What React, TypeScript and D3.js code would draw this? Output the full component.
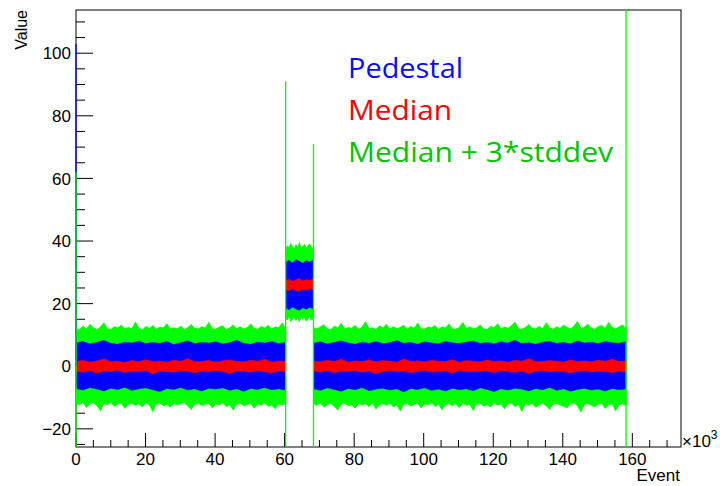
import React from "react";
import * as d3 from "d3";

// ---------------- data (units: Event ×10^3 / Value) ----------------
const xTickLabels = [0, 20, 40, 60, 80, 100, 120, 140, 160];
const yTickLabels = [-20, 0, 20, 40, 60, 80, 100];

// event ranges of the three data segments (before the step, the step, after the step)
const segmentBounds: [number, number][] = [
  [0, 60.3],
  [60.3, 68.2],
  [68.3, 158.2],
];

// Median ± 3*stddev (green) envelope
const greenUpA = [12.1, 11.6, 12.8, 11.9, 13.4, 12.2, 11.7, 12.5, 13.9, 12.0,
  11.8, 12.6, 12.3, 13.1, 11.9, 12.4, 12.0, 14.1, 12.2, 11.6,
  12.7, 12.1, 13.0, 11.8, 12.5, 12.2, 13.6, 11.9, 12.3, 12.0,
  12.8, 11.7, 12.4, 13.3, 12.1, 11.9, 12.6, 12.2, 14.0, 12.0,
  11.8, 12.5, 12.9, 11.7, 12.3, 13.2, 12.0, 12.6, 11.9, 12.4,
  13.5, 12.1, 11.8, 12.7, 12.2, 13.0, 11.9, 12.5, 12.3, 13.8, 12.1];
const greenLoA = [-11.8, -12.4, -11.5, -13.2, -12.0, -11.7, -12.6, -14.2, -11.9, -12.3,
  -11.6, -12.8, -12.1, -11.8, -13.5, -12.2, -11.9, -12.5, -12.0, -13.0,
  -11.7, -12.3, -14.5, -12.1, -11.8, -12.6, -12.2, -13.1, -11.9, -12.4,
  -12.0, -11.6, -12.7, -13.8, -12.1, -11.9, -12.5, -12.2, -11.8, -13.3,
  -12.0, -12.4, -11.7, -12.9, -12.3, -14.0, -12.1, -11.8, -12.6, -12.2,
  -11.9, -13.4, -12.0, -12.5, -11.7, -12.8, -12.3, -13.6, -12.0, -12.4, -11.9];
const greenUpB = [37.6, 38.4, 37.9, 39.2, 38.1, 37.5, 38.8, 38.0, 39.5, 37.8, 38.3, 38.9, 37.7, 38.5, 39.1, 38.0, 37.6];
const greenLoB = [15.4, 14.8, 15.9, 14.3, 15.1, 15.7, 14.6, 15.3, 14.2, 15.8, 15.0, 15.5, 14.4, 15.2, 15.9, 14.7, 15.3];
const greenUpC = [12.3, 11.9, 12.6, 13.2, 12.0, 11.7, 12.8, 12.2, 13.7, 11.9,
  12.4, 12.1, 13.0, 11.8, 12.5, 14.2, 12.0, 12.3, 11.7, 12.9,
  12.2, 13.4, 11.9, 12.6, 12.0, 12.4, 13.1, 11.8, 12.7, 12.1,
  13.8, 12.0, 11.9, 12.5, 12.3, 13.0, 11.7, 12.6, 12.2, 13.5,
  12.0, 11.8, 12.4, 14.0, 12.1, 12.6, 11.9, 12.3, 13.2, 12.0,
  11.7, 12.8, 12.2, 13.6, 11.9, 12.5, 12.1, 12.9, 14.1, 12.0,
  11.8, 12.4, 13.3, 12.2, 11.9, 12.7, 12.0, 13.9, 12.3, 11.8,
  12.6, 12.1, 13.1, 12.4, 11.9, 12.8, 14.3, 12.0, 12.5, 13.4,
  12.2, 11.8, 12.7, 13.0, 12.1, 14.0, 12.4, 11.9, 12.6, 13.2, 12.0];
const greenLoC = [-12.0, -12.5, -11.7, -13.1, -12.2, -11.9, -12.8, -14.0, -12.1, -11.8,
  -12.6, -12.3, -13.4, -11.9, -12.4, -12.0, -12.9, -11.7, -13.7, -12.2,
  -12.0, -12.5, -11.8, -13.0, -12.3, -14.3, -12.1, -11.9, -12.7, -12.2,
  -11.8, -13.3, -12.0, -12.4, -11.7, -12.8, -12.1, -13.9, -12.3, -11.9,
  -12.6, -12.0, -13.2, -11.8, -12.5, -12.2, -14.1, -12.0, -11.9, -12.7,
  -12.3, -13.0, -11.8, -12.4, -12.1, -13.6, -12.0, -11.7, -12.9, -12.2,
  -14.4, -12.0, -12.5, -11.9, -13.1, -12.3, -11.8, -12.6, -13.8, -12.1,
  -11.9, -12.4, -12.8, -13.3, -12.0, -11.7, -12.6, -14.6, -12.2, -11.9,
  -12.5, -13.0, -12.1, -11.8, -13.5, -12.3, -12.0, -14.2, -12.4, -11.9, -12.7];

// Pedestal (blue) envelope
const blueUpA = [7.4, 7.9, 7.1, 7.6, 8.2, 7.3, 7.0, 7.7, 7.4, 8.0,
  7.2, 7.6, 7.3, 7.9, 6.9, 7.5, 8.1, 7.2, 7.6, 7.4,
  7.8, 7.1, 7.5, 8.3, 7.3, 7.0, 7.7, 7.4, 7.9, 7.2, 7.6];
const blueLoA = [-7.1, -7.6, -6.8, -7.3, -7.9, -7.0, -7.4, -6.7, -7.7, -7.2,
  -6.9, -7.5, -8.1, -7.1, -7.4, -6.8, -7.6, -7.2, -7.9, -7.0,
  -7.3, -6.9, -7.7, -7.2, -8.0, -7.1, -7.4, -6.8, -7.5, -7.2, -7.6];
const blueUpB = [33.2, 33.8, 33.0, 34.1, 33.5, 32.9, 33.7, 33.3, 33.9];
const blueLoB = [18.6, 18.1, 18.9, 18.3, 17.9, 18.7, 18.2, 18.8, 18.4];
const blueUpC = [7.3, 7.8, 7.1, 7.6, 8.1, 7.4, 7.0, 7.7, 7.3, 7.9,
  7.2, 7.5, 8.2, 7.3, 7.6, 7.0, 7.8, 7.4, 7.1, 7.9,
  7.5, 7.2, 7.7, 8.0, 7.3, 7.6, 7.1, 7.8, 7.4, 8.3,
  7.2, 7.5, 7.0, 7.7, 7.9, 7.3, 7.6, 7.1, 8.1, 7.4,
  7.7, 7.2, 7.9, 7.5, 7.3, 7.8];
const blueLoC = [-7.2, -7.7, -6.9, -7.4, -8.0, -7.1, -7.5, -6.8, -7.8, -7.3,
  -7.0, -7.6, -7.2, -8.2, -7.1, -7.4, -6.9, -7.7, -7.3, -7.9,
  -7.0, -7.5, -7.2, -7.8, -6.9, -7.4, -8.1, -7.2, -7.6, -7.0,
  -7.3, -7.9, -7.1, -7.5, -6.8, -7.7, -7.2, -8.0, -7.4, -7.0,
  -7.6, -7.3, -7.9, -7.1, -7.5, -7.2];

// Median (red) envelope
const redUpA = [1.5, 1.9, 1.3, 1.7, 2.3, 1.4, 1.6, 1.2, 1.8, 1.5, 2.1, 1.4, 1.7, 1.3, 1.9, 1.6, 2.4, 1.4, 1.5, 1.8, 1.3, 1.7, 2.0, 1.5, 1.4, 1.9, 1.6, 2.2, 1.3, 1.7, 1.5];
const redLoA = [-1.6, -1.9, -1.4, -2.2, -1.5, -1.7, -1.3, -2.0, -1.6, -1.8, -1.4, -2.5, -1.5, -1.7, -1.9, -1.4, -1.6, -2.1, -1.5, -1.8, -1.3, -1.7, -2.3, -1.5, -1.6, -1.9, -1.4, -1.8, -2.0, -1.5, -1.7];
const redUpB = [27.3, 27.8, 27.1, 27.6, 28.0, 27.2, 27.7, 27.4, 27.9];
const redLoB = [24.5, 24.1, 24.7, 24.3, 23.9, 24.6, 24.2, 24.8, 24.4];
const redUpC = [1.6, 1.4, 1.9, 1.5, 2.2, 1.3, 1.7, 1.5, 2.0, 1.4, 1.8, 1.6, 1.3, 2.3, 1.5, 1.7, 1.4, 1.9, 1.6, 1.5, 2.1, 1.3, 1.8, 1.6, 1.4, 2.0, 1.5, 1.7, 1.3, 1.9, 1.6, 2.4, 1.4, 1.5, 1.8, 1.6, 1.3, 2.0, 1.5, 1.7, 1.4, 1.9, 1.6, 2.2, 1.5, 1.7];
const redLoC = [-1.5, -1.8, -1.4, -2.1, -1.6, -1.7, -1.3, -1.9, -1.5, -2.4, -1.6, -1.4, -1.8, -1.5, -2.0, -1.7, -1.3, -1.9, -1.6, -1.5, -2.2, -1.4, -1.7, -1.8, -1.5, -1.6, -2.0, -1.4, -1.7, -1.9, -1.5, -2.3, -1.6, -1.4, -1.8, -1.5, -1.7, -2.1, -1.6, -1.4, -1.9, -1.5, -1.7, -2.0, -1.6, -1.8];

// single outlier spikes (vertical line segments of the graphs)
const spikeEvents = [0, 0, 60.3, 68.3, 158.2];
const spikeLow = [0, -40, -40, -40, -40];
const spikeHigh = [103, 62, 91, 71, 140];
const spikeSeries = ["Pedestal", "Median + 3*stddev", "Median + 3*stddev", "Median + 3*stddev", "Median + 3*stddev"];

const legendLabels = ["Pedestal", "Median", "Median + 3*stddev"];
const legendWidths = [115, 104, 265];

// ---------------- styling ----------------
const seriesColor: Record<string, string> = {
  Pedestal: "#0000ff",
  Median: "#ff0000",
  "Median + 3*stddev": "#00ff00",
};
const legendColor: Record<string, string> = {
  Pedestal: "#0a0aff",
  Median: "#ff0000",
  "Median + 3*stddev": "#00c400",
};

const W = 720;
const H = 486;
const PL = 76, PR = 681, PT = 10, PB = 447;

type Pt = { x: number; lo: number; hi: number };

function band(lo: number[], hi: number[], bounds: [number, number]): Pt[] {
  const [a, b] = bounds;
  const n = Math.min(lo.length, hi.length);
  return lo.slice(0, n).map((l, i) => ({ x: a + ((b - a) * i) / (n - 1), lo: l, hi: hi[i] }));
}

export default function App() {
  const x = d3.scaleLinear().domain([0, 174]).range([PL, PR]);
  const y = d3.scaleLinear().domain([-25.8, 113.8]).range([PB, PT]);

  const area = d3
    .area<Pt>()
    .x((d) => x(d.x))
    .y0((d) => y(d.lo))
    .y1((d) => y(d.hi));

  const greenBands = [
    band(greenLoA, greenUpA, segmentBounds[0]),
    band(greenLoB, greenUpB, segmentBounds[1]),
    band(greenLoC, greenUpC, segmentBounds[2]),
  ];
  const blueBands = [
    band(blueLoA, blueUpA, segmentBounds[0]),
    band(blueLoB, blueUpB, segmentBounds[1]),
    band(blueLoC, blueUpC, segmentBounds[2]),
  ];
  const redBands = [
    band(redLoA, redUpA, segmentBounds[0]),
    band(redLoB, redUpB, segmentBounds[1]),
    band(redLoC, redUpC, segmentBounds[2]),
  ];

  const yMinor = d3.range(-25, 113, 5);
  const xMinor = d3.range(0, 174, 5);

  const font = "'Liberation Sans', Arial, Helvetica, sans-serif";

  return (
    <svg
      width={W}
      height={H}
      viewBox={`0 0 ${W} ${H}`}
      style={{ position: "absolute", left: 0, top: 0, background: "#fff" }}
    >
      <defs>
        <clipPath id="plotClip">
          <rect x={PL - 1} y={PT} width={PR - PL + 1} height={PB - PT} />
        </clipPath>
      </defs>
      <rect x={0} y={0} width={W} height={H} fill="#fff" />

      {/* frame */}
      <rect x={PL} y={PT} width={PR - PL} height={PB - PT} fill="none" stroke="#000" strokeWidth={1} />

      {/* y ticks */}
      {yMinor.map((v) => {
        const major = v % 20 === 0;
        return (
          <line key={"yt" + v} x1={PL} x2={PL + (major ? 17 : 9)} y1={y(v)} y2={y(v)} stroke="#000" strokeWidth={1} />
        );
      })}
      {/* x ticks */}
      {xMinor.map((v) => {
        const major = v % 20 === 0;
        return (
          <line key={"xt" + v} x1={x(v)} x2={x(v)} y1={PB} y2={PB - (major ? 14 : 7)} stroke="#000" strokeWidth={1} />
        );
      })}

      {/* data */}
      <g clipPath="url(#plotClip)">
        {greenBands.map((b, i) => (
          <path key={"g" + i} d={area(b) || ""} fill={seriesColor["Median + 3*stddev"]} stroke={seriesColor["Median + 3*stddev"]} strokeWidth={0.8} />
        ))}
        {blueBands.map((b, i) => (
          <path key={"b" + i} d={area(b) || ""} fill={seriesColor.Pedestal} stroke={seriesColor.Pedestal} strokeWidth={0.6} />
        ))}
        {redBands.map((b, i) => (
          <path key={"r" + i} d={area(b) || ""} fill={seriesColor.Median} stroke={seriesColor.Median} strokeWidth={0.6} />
        ))}
        {spikeEvents.map((e, i) => (
          <line
            key={"s" + i}
            x1={x(e)}
            x2={x(e)}
            y1={y(spikeLow[i])}
            y2={y(spikeHigh[i])}
            stroke={seriesColor[spikeSeries[i]]}
            strokeWidth={1.3}
          />
        ))}
      </g>

      {/* y tick labels */}
      {yTickLabels.map((v) => (
        <text key={"yl" + v} x={71} y={y(v)} dy="0.36em" textAnchor="end" fontFamily={font} fontSize={17} fill="#000">
          {v < 0 ? "\u2212" + Math.abs(v) : String(v)}
        </text>
      ))}
      {/* x tick labels */}
      {xTickLabels.map((v) => (
        <text key={"xl" + v} x={x(v)} y={465} textAnchor="middle" fontFamily={font} fontSize={17} fill="#000">
          {String(v)}
        </text>
      ))}

      {/* x10^3 */}
      <text x={682} y={447} fontFamily={font} fontSize={17} fill="#000">
        {"\u00d710"}
        <tspan dy={-8} fontSize={12}>3</tspan>
      </text>

      {/* axis titles */}
      <text x={680} y={481} textAnchor="end" fontFamily={font} fontSize={17} fill="#000">
        Event
      </text>
      <text transform="translate(27,10) rotate(-90)" textAnchor="end" fontFamily={font} fontSize={16} fill="#000">
        Value
      </text>

      {/* legend */}
      {legendLabels.map((l, i) => (
        <text
          key={"lg" + l}
          x={348}
          y={78 + i * 42}
          fontFamily="'Open Sans', 'Noto Sans', sans-serif"
          fontSize={28}
          textLength={legendWidths[i]}
          lengthAdjust="spacingAndGlyphs"
          fill={legendColor[l]}
        >
          {l}
        </text>
      ))}
    </svg>
  );
}
